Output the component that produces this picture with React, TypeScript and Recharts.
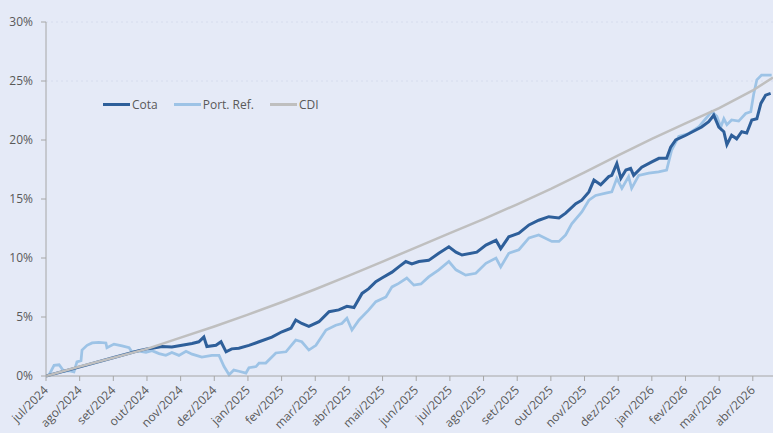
import { LineChart, Line, XAxis, YAxis, CartesianGrid, Legend } from "recharts";

// x = months since jul/2024, y = accumulated return in %
const monthLabels = [
  "jul/2024", "ago/2024", "set/2024", "out/2024", "nov/2024", "dez/2024",
  "jan/2025", "fev/2025", "mar/2025", "abr/2025", "mai/2025", "jun/2025",
  "jul/2025", "ago/2025", "set/2025", "out/2025", "nov/2025", "dez/2025",
  "jan/2026", "fev/2026", "mar/2026", "abr/2026",
];
const yTicks = [0, 5, 10, 15, 20, 25, 30];

const cota: [number, number][] = [
  [0, 0], [0.98, 0.75], [1.99, 1.55], [2.76, 2.15], [3.0, 2.3], [3.15, 2.35], [3.45, 2.5],
  [3.74, 2.45], [4.04, 2.6], [4.34, 2.75], [4.54, 2.9], [4.69, 3.3], [4.78, 2.5], [5.05, 2.6],
  [5.2, 2.9], [5.35, 2.05], [5.52, 2.3], [5.73, 2.35], [6.03, 2.6], [6.33, 2.9], [6.71, 3.3],
  [7.01, 3.75], [7.28, 4.05], [7.42, 4.75], [7.6, 4.45], [7.81, 4.2], [8.11, 4.6], [8.41, 5.45],
  [8.7, 5.6], [8.94, 5.9], [9.15, 5.8], [9.39, 7.0], [9.59, 7.4], [9.8, 8.0], [9.98, 8.3],
  [10.28, 8.8], [10.48, 9.25], [10.69, 9.7], [10.87, 9.5], [11.08, 9.7], [11.37, 9.8],
  [11.67, 10.4], [11.97, 10.95], [12.18, 10.5], [12.36, 10.25], [12.8, 10.5], [13.07, 11.1],
  [13.37, 11.5], [13.51, 10.8], [13.75, 11.8], [14.05, 12.1], [14.35, 12.8], [14.64, 13.2],
  [14.94, 13.5], [15.24, 13.4], [15.44, 13.8], [15.74, 14.6], [15.92, 14.9], [16.13, 15.6],
  [16.28, 16.6], [16.48, 16.2], [16.72, 16.9], [16.81, 17.0], [16.96, 18.0], [17.08, 16.75],
  [17.23, 17.45], [17.37, 17.6], [17.46, 17.0], [17.7, 17.7], [18.0, 18.15], [18.21, 18.45],
  [18.44, 18.45], [18.56, 19.4], [18.71, 20.0], [19.01, 20.4], [19.31, 20.85], [19.48, 21.1],
  [19.69, 21.55], [19.84, 22.1], [19.99, 21.1], [20.14, 20.7], [20.23, 19.6], [20.37, 20.4],
  [20.52, 20.1], [20.67, 20.7], [20.82, 20.6], [20.97, 21.7], [21.12, 21.8], [21.24, 23.1],
  [21.38, 23.8], [21.53, 23.95],
];

const portRef: [number, number][] = [
  [0, 0], [0.09, 0.1], [0.24, 0.9], [0.39, 0.95], [0.53, 0.4], [0.68, 0.45], [0.83, 0.35],
  [0.92, 1.2], [1.04, 1.3], [1.07, 2.2], [1.22, 2.6], [1.37, 2.8], [1.57, 2.85], [1.78, 2.8],
  [1.81, 2.4], [2.02, 2.7], [2.26, 2.55], [2.47, 2.4], [2.55, 2.05], [2.76, 2.1], [2.97, 2.0],
  [3.15, 2.15], [3.36, 1.9], [3.56, 1.75], [3.74, 2.0], [3.95, 1.75], [4.16, 2.1], [4.34, 1.85],
  [4.63, 1.6], [4.93, 1.75], [5.14, 1.75], [5.29, 0.8], [5.44, 0.1], [5.58, 0.5], [5.73, 0.4],
  [5.94, 0.25], [6.03, 0.7], [6.24, 0.8], [6.33, 1.1], [6.53, 1.1], [6.83, 1.95], [7.13, 2.05],
  [7.42, 3.05], [7.6, 2.9], [7.81, 2.2], [8.02, 2.6], [8.32, 3.9], [8.61, 4.3], [8.79, 4.45],
  [8.94, 4.9], [9.09, 3.9], [9.3, 4.75], [9.59, 5.6], [9.8, 6.3], [10.1, 6.7], [10.28, 7.55],
  [10.48, 7.85], [10.72, 8.3], [10.93, 7.7], [11.14, 7.8], [11.37, 8.4], [11.67, 9.0],
  [11.97, 9.7], [12.18, 9.0], [12.47, 8.55], [12.77, 8.7], [13.07, 9.55], [13.37, 10.0],
  [13.51, 9.25], [13.75, 10.4], [14.05, 10.7], [14.35, 11.7], [14.64, 11.95], [15.03, 11.4],
  [15.24, 11.4], [15.44, 11.95], [15.62, 12.9], [15.92, 13.9], [16.13, 14.9], [16.33, 15.3],
  [16.63, 15.5], [16.81, 15.6], [16.96, 16.75], [17.11, 15.9], [17.31, 16.9], [17.4, 15.9],
  [17.61, 17.0], [17.91, 17.2], [18.2, 17.3], [18.44, 17.45], [18.59, 19.15], [18.8, 20.3],
  [19.1, 20.55], [19.39, 21.1], [19.6, 21.8], [19.78, 22.4], [19.93, 22.0], [20.05, 21.1],
  [20.14, 21.8], [20.23, 21.3], [20.37, 21.7], [20.58, 21.6], [20.79, 22.25], [20.94, 22.4],
  [21.03, 23.95], [21.12, 25.1], [21.26, 25.5], [21.56, 25.5],
];

const cdi: [number, number][] = [
  [0, 0], [1, 0.8], [2, 1.55], [3, 2.3], [4, 3.25], [5, 4.2], [6, 5.2], [7, 6.25], [8, 7.35],
  [9, 8.5], [10, 9.7], [11, 10.9], [12, 12.1], [13, 13.3], [14, 14.55], [15, 15.85],
  [16, 17.25], [17, 18.7], [18, 20.1], [19, 21.4], [20, 22.7], [21, 24.2], [21.6, 25.3],
];

const legendItems = [
  { name: "Cota", color: "#2E5F9A" },
  { name: "Port. Ref.", color: "#9DC3E6" },
  { name: "CDI", color: "#BFBFBF" },
];

const toRows = (pts: [number, number][]) => pts.map(([m, v]) => ({ m, v }));

const FONT = "'Open Sans', sans-serif";
const TEXT = "#595959";

function MonthTick({ x, y, payload }: any) {
  return (
    <text
      x={x}
      y={y}
      transform={`rotate(-45 ${x} ${y})`}
      textAnchor="end"
      dy="0.35em"
      fontSize={12}
      fontFamily={FONT}
      fill={TEXT}
    >
      {monthLabels[payload.value]}
    </text>
  );
}

function LegendRow() {
  return (
    <div style={{ display: "flex", alignItems: "center", fontFamily: FONT, fontSize: 12, color: TEXT, whiteSpace: "nowrap" }}>
      {legendItems.map((it, i) => (
        <div key={it.name} style={{ display: "flex", alignItems: "center", marginLeft: i === 0 ? 0 : 16 }}>
          <span style={{ display: "inline-block", width: 27, height: 3, background: it.color, marginRight: 2 }} />
          <span>{it.name}</span>
        </div>
      ))}
    </div>
  );
}

export default function App() {
  return (
    <div style={{ position: "absolute", left: 0, top: 0, width: 773, height: 433, background: "#E5EAF7" }}>
      <LineChart width={773} height={433} margin={{ top: 22, right: 0, left: 0, bottom: 0 }}>
        <CartesianGrid horizontalValues={[25, 30]} vertical={false} stroke="#d6dcee" strokeDasharray="2 3" />
        <XAxis
          dataKey="m"
          type="number"
          domain={[0, 21.6]}
          ticks={monthLabels.map((_, i) => i)}
          interval={0}
          height={57}
          tick={<MonthTick />}
          tickSize={5}
          tickMargin={7}
          axisLine={{ stroke: "#A6A6A6" }}
          tickLine={{ stroke: "#A6A6A6" }}
          allowDataOverflow
        />
        <YAxis
          type="number"
          domain={[0, 30]}
          ticks={yTicks}
          width={46}
          tickFormatter={(v: number) => `${v}%`}
          tick={{ fontSize: 12, fill: TEXT, fontFamily: FONT }}
          tickSize={5}
          tickMargin={8}
          axisLine={{ stroke: "#A6A6A6" }}
          tickLine={{ stroke: "#A6A6A6" }}
        />
        <Legend
          layout="horizontal"
          verticalAlign="middle"
          align="center"
          wrapperStyle={{ top: 96, left: 103, width: "auto" }}
          content={() => <LegendRow />}
        />
        <Line data={toRows(portRef)} dataKey="v" name="Port. Ref." stroke="#9DC3E6" strokeWidth={2.75} dot={false} isAnimationActive={false} />
        <Line data={toRows(cota)} dataKey="v" name="Cota" stroke="#2E5F9A" strokeWidth={3} dot={false} isAnimationActive={false} />
        <Line data={toRows(cdi)} dataKey="v" name="CDI" stroke="#BFBFBF" strokeWidth={2.5} dot={false} isAnimationActive={false} />
      </LineChart>
    </div>
  );
}
